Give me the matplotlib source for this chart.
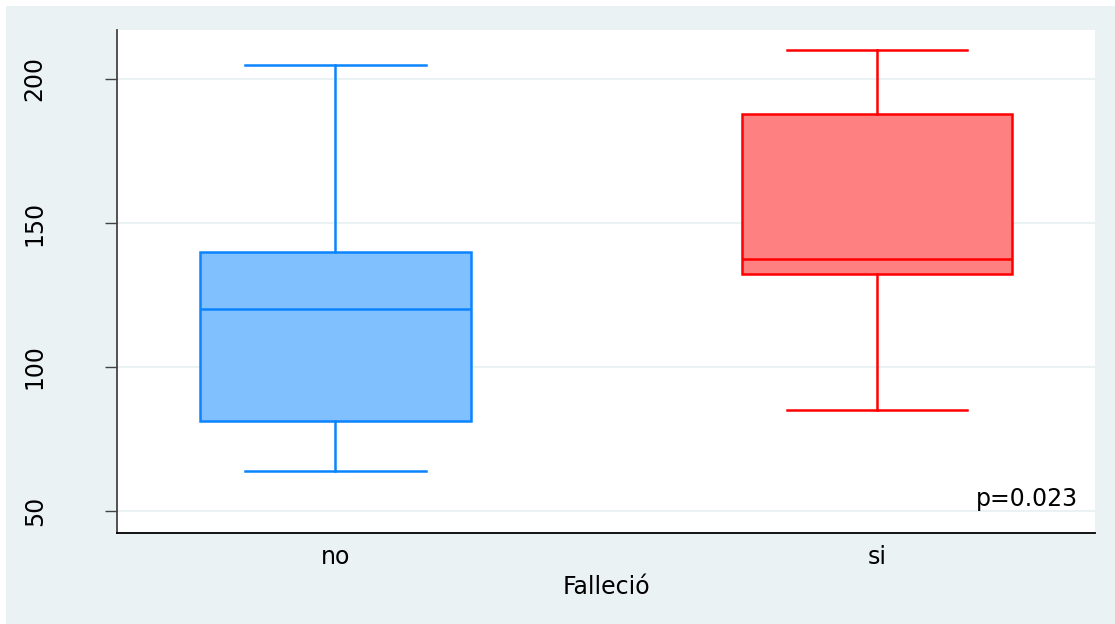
import matplotlib
matplotlib.use("Agg")
import matplotlib.pyplot as plt
from matplotlib.patches import Rectangle

# datos (boxplot por fallecimiento)
grupos = ["no", "si"]
minimo = [64, 85]
q1 = [81.3, 132.3]
mediana = [120, 137.5]
q3 = [140, 188]
maximo = [205, 210]
bordes = ["#0A84FF", "#FF0000"]
rellenos = ["#80C0FF", "#FF8080"]
yticks = [50, 100, 150, 200]
ptexto = "p=0.023"

fondo = "#EAF2F3"

fig = plt.figure(figsize=(11.15, 6.24), dpi=100, facecolor="white")
fig.patches.append(Rectangle((6 / 1115, 0), 1, 1 - 6 / 624, transform=fig.transFigure,
                             facecolor=fondo, edgecolor="none", zorder=-10))
ax = fig.add_axes([117 / 1115, 1 - 533 / 624, (1095 - 117) / 1115, (533 - 30) / 624])
ax.set_facecolor("white")

stats = []
for i in range(len(grupos)):
    stats.append({"label": grupos[i], "whislo": minimo[i], "q1": q1[i], "med": mediana[i],
                  "q3": q3[i], "whishi": maximo[i], "fliers": []})

bp = ax.bxp(stats, positions=[1, 2], widths=0.5, capwidths=0.334, patch_artist=True,
            showfliers=False)
for i in range(len(grupos)):
    bp["boxes"][i].set(facecolor=rellenos[i], edgecolor=bordes[i], linewidth=1.8)
    bp["medians"][i].set(color=bordes[i], linewidth=1.8)
    for j in (2 * i, 2 * i + 1):
        bp["whiskers"][j].set(color=bordes[i], linewidth=1.8)
        bp["caps"][j].set(color=bordes[i], linewidth=1.8)

ax.set_xlim(0.5965, 2.4026)
ax.set_ylim(42.4, 217)
ax.set_yticks(yticks)
ax.set_yticklabels([str(v) for v in yticks], rotation=90, va="center")
ax.yaxis.grid(True, color=fondo, linewidth=1.5)
ax.set_axisbelow(True)

for s in ["top", "right"]:
    ax.spines[s].set_visible(False)
ax.spines["left"].set_color("#444444")
ax.spines["left"].set_linewidth(1.3)
ax.spines["bottom"].set_color("black")
ax.spines["bottom"].set_linewidth(1.3)

ax.tick_params(axis="y", length=8.6, width=1, color="#444444", pad=42, labelsize=17)
ax.tick_params(axis="x", length=0, pad=9, labelsize=17)
ax.set_xlabel("Falleció", fontsize=17, labelpad=4)

ax.text(0.9826, 0.0537, ptexto, transform=ax.transAxes, ha="right", va="baseline",
        fontsize=17)

fig.savefig("out.png", dpi=100, facecolor=fig.get_facecolor())
